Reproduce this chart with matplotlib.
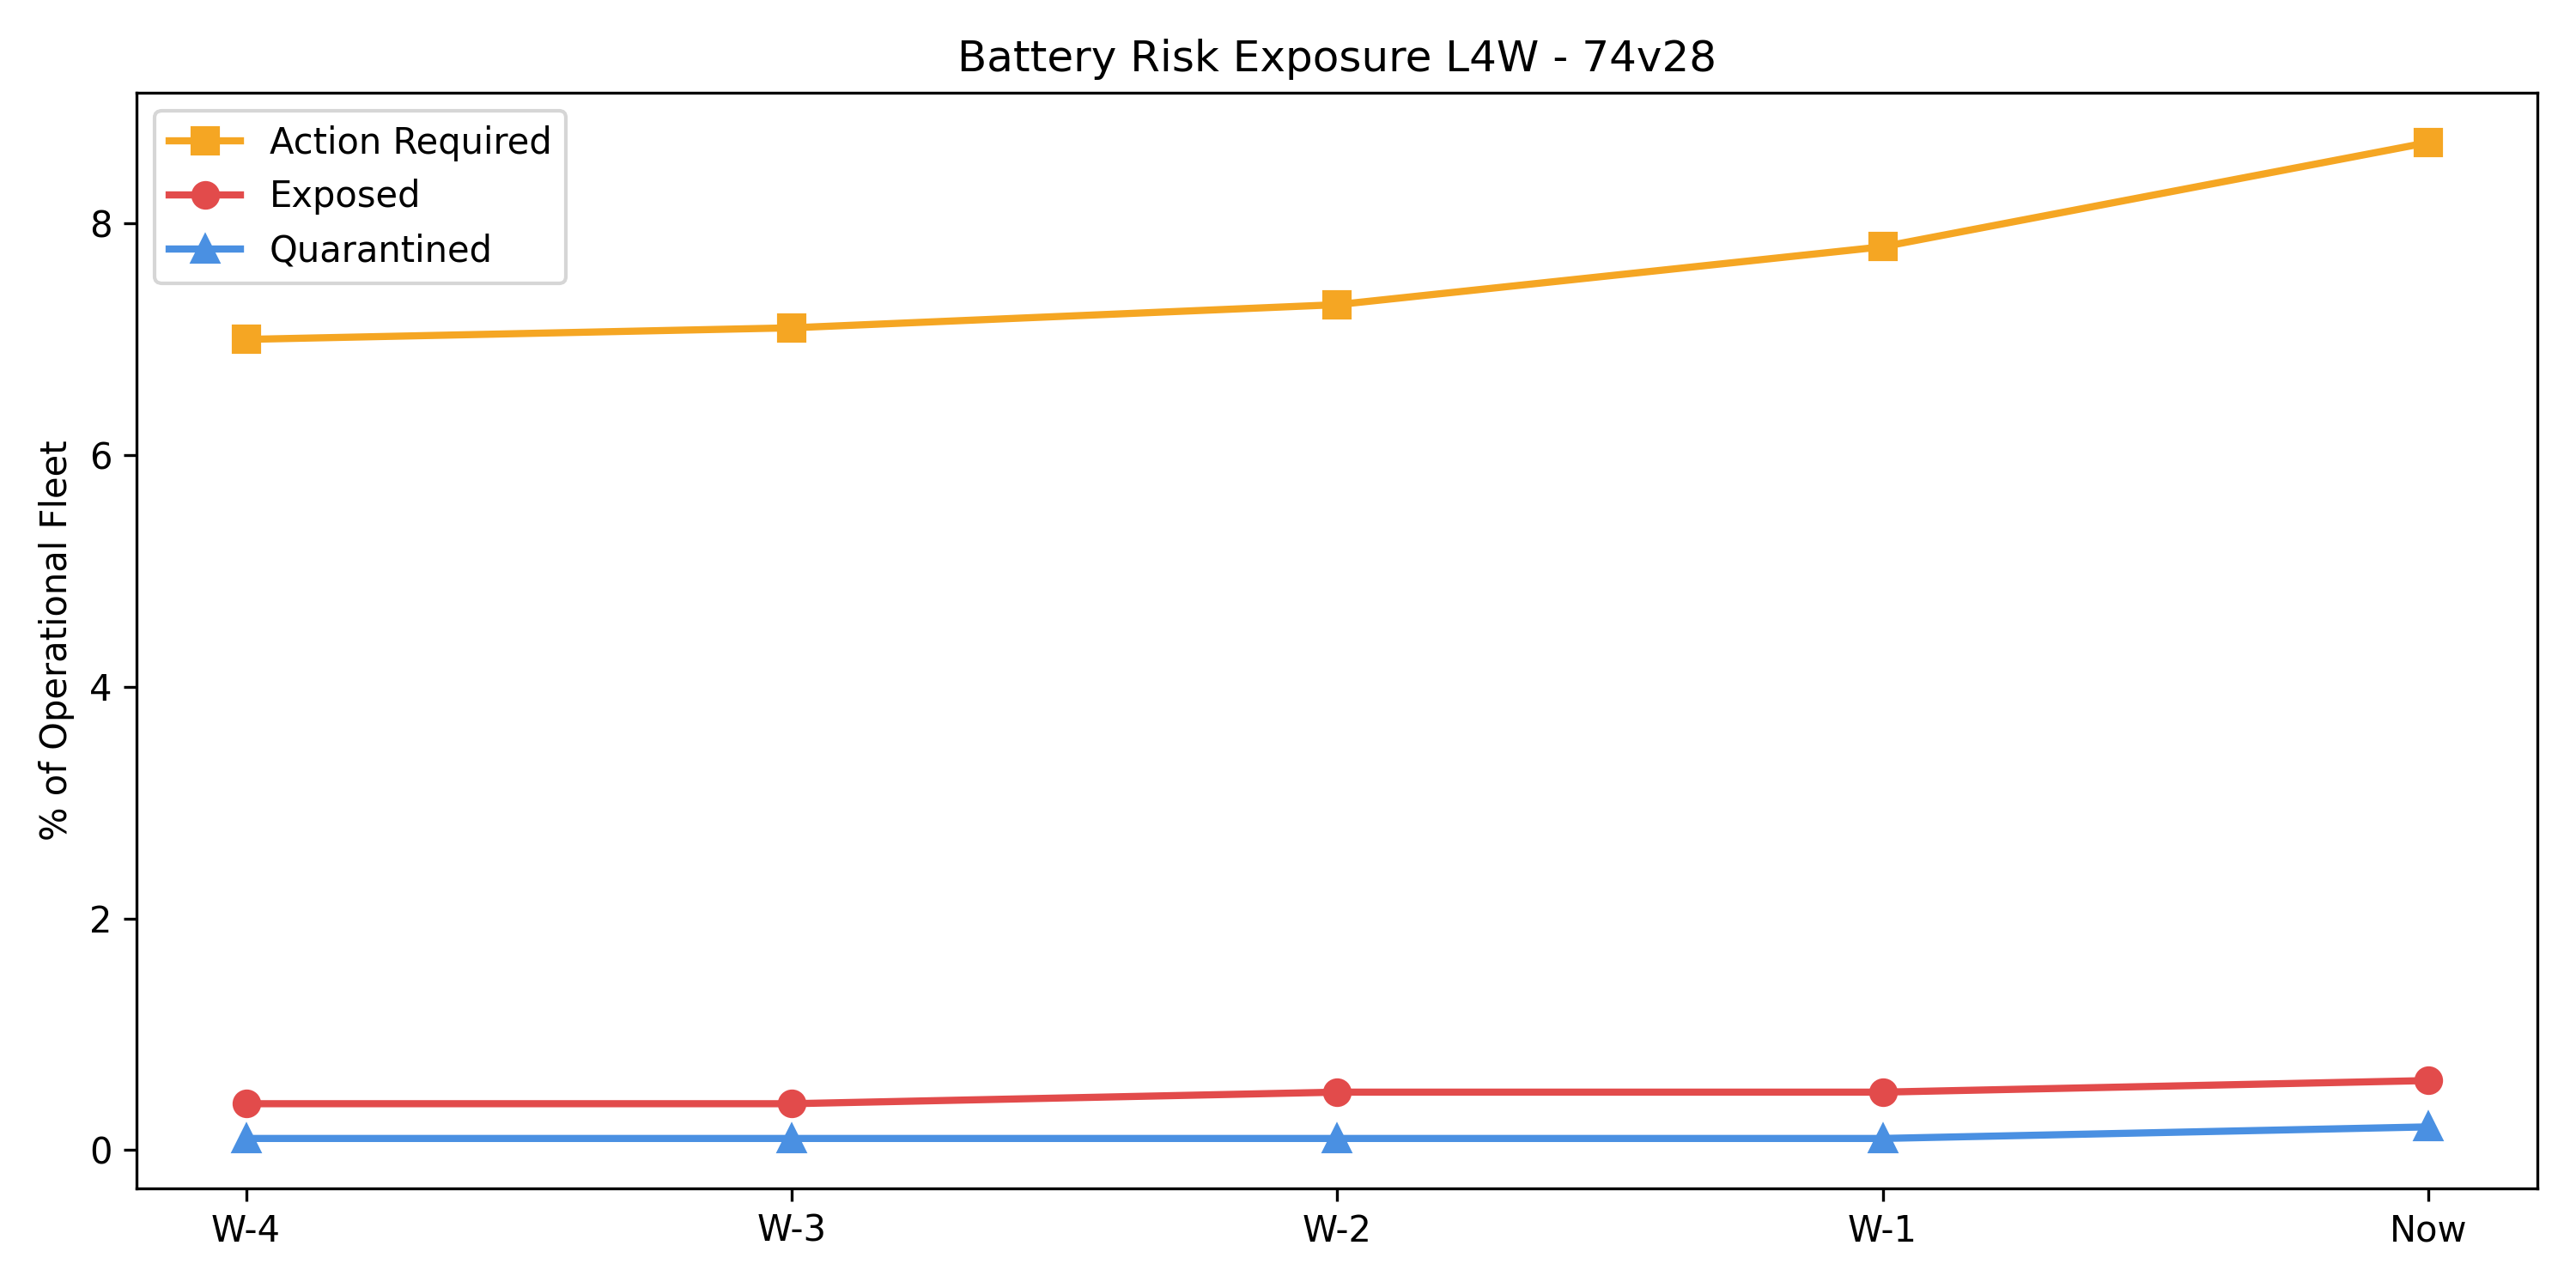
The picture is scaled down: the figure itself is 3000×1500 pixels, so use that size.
import matplotlib
matplotlib.use("Agg")
import matplotlib.pyplot as plt

# данные
weeks = ["W-4", "W-3", "W-2", "W-1", "Now"]
action_required = [7.0, 7.1, 7.3, 7.8, 8.7]
exposed = [0.4, 0.4, 0.5, 0.5, 0.6]
quarantined = [0.1, 0.1, 0.1, 0.1, 0.2]

fig, ax = plt.subplots(figsize=(10, 5), dpi=300)

ax.plot(weeks, action_required, marker='s', color='#F5A623', linewidth=2, markersize=7, label='Action Required')
ax.plot(weeks, exposed, marker='o', color='#E24B4B', linewidth=2, markersize=7, label='Exposed')
ax.plot(weeks, quarantined, marker='^', color='#4A90E2', linewidth=2, markersize=7, label='Quarantined')

ax.set_title("Battery Risk Exposure L4W - 74v28")
ax.set_ylabel("% of Operational Fleet")
ax.legend(loc='upper left')

plt.tight_layout()
plt.savefig("out.png")
